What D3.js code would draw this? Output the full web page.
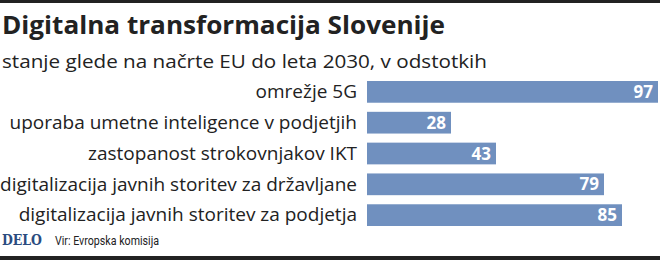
<!DOCTYPE html>
<html><head><meta charset="utf-8">
<script src="https://cdn.jsdelivr.net/npm/d3@7"></script>
<style>
body{margin:0;background:#fff;}
svg{display:block;}
</style></head>
<body>
<svg id="c" width="660" height="260"></svg>
<script>
const categories = [
  "omrežje 5G",
  "uporaba umetne inteligence v podjetjih",
  "zastopanost strokovnjakov IKT",
  "digitalizacija javnih storitev za državljane",
  "digitalizacija javnih storitev za podjetja"
];
const values = [97, 28, 43, 79, 85];
const title = "Digitalna transformacija Slovenije";
const subtitle = "stanje glede na načrte EU do leta 2030, v odstotkih";
const source = "Vir: Evropska komisija";

const svg = d3.select("#c");
const W = 660, H = 260;
const font = "'Open Sans', 'Noto Sans', sans-serif";

svg.append("rect").attr("x",0).attr("y",0).attr("width",W).attr("height",3).attr("fill","#222");
svg.append("rect").attr("x",0).attr("y",256).attr("width",W).attr("height",4).attr("fill","#222");

svg.append("text").attr("x",2).attr("y",34).text(title)
  .attr("font-family",font).attr("font-weight",700).attr("font-size",24.5).attr("fill","#222")
  .attr("textLength",443).attr("lengthAdjust","spacingAndGlyphs");
svg.append("text").attr("x",2).attr("y",67.5).text(subtitle)
  .attr("font-family",font).attr("font-size",19).attr("fill","#222")
  .attr("textLength",485).attr("lengthAdjust","spacingAndGlyphs");

const x = d3.scaleLinear().domain([0,100]).range([367,667]);
const y = d3.scaleBand().domain(categories).range([81,226]).paddingInner(0.295).paddingOuter(0);

const g = svg.append("g");
g.selectAll("rect.bar").data(values).join("rect").attr("class","bar")
  .attr("x",x(0)).attr("y",(d,i)=>y(categories[i]))
  .attr("width",d=>x(d)-x(0)).attr("height",y.bandwidth())
  .attr("fill","#7090bf");

g.selectAll("text.val").data(values).join("text").attr("class","val")
  .attr("x",d=>x(d)-5).attr("y",(d,i)=>y(categories[i])+y.bandwidth()/2+6)
  .attr("text-anchor","end").text(d=>d)
  .attr("font-family",font).attr("font-weight",700).attr("font-size",17).attr("fill","#fff");

const yAxis = d3.axisLeft(y).tickSize(0).tickPadding(0);
const ax = svg.append("g").attr("transform","translate(357,0)").call(yAxis);
ax.select(".domain").remove();
ax.selectAll("text").attr("font-family",font).attr("font-size",19).attr("fill","#222").attr("dy","0.33em");

svg.append("text").attr("x",2).attr("y",245).text("DELO")
  .attr("font-family","'DejaVu Serif', 'Liberation Serif', serif").attr("font-weight",700)
  .attr("font-size",14.5).attr("fill","#2b4c80").attr("textLength",40).attr("lengthAdjust","spacingAndGlyphs");
svg.append("text").attr("x",55).attr("y",245).text(source)
  .attr("font-family","'Liberation Sans Narrow', 'Roboto', sans-serif")
  .attr("font-size",13).attr("fill","#222").attr("textLength",104).attr("lengthAdjust","spacingAndGlyphs");
</script>
</body></html>
